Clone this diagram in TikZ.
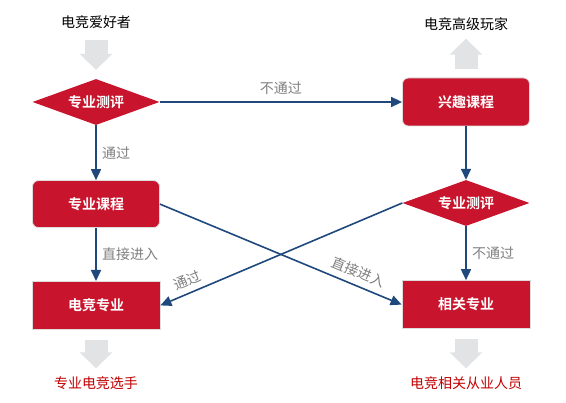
\documentclass[tikz,border=0pt]{standalone}
\usepackage{fontspec}
\newfontfamily\cjk{Noto Sans CJK SC}[BoldFont={Noto Sans CJK SC Bold}]
\usepackage{tikz}
\usetikzlibrary{shapes,arrows.meta,positioning}
\definecolor{evred}{HTML}{C8152D}
\definecolor{evblue}{HTML}{1F497D}
\definecolor{evgray}{HTML}{E1E3E4}
\definecolor{evnote}{HTML}{7F7F7F}
\definecolor{evborder}{HTML}{DCDCDC}
\definecolor{evgoal}{HTML}{C00000}
\tikzset{
  testnode/.style   = {diamond, aspect=2.7, fill=evred, text=white, inner sep=0pt, minimum width=127pt, minimum height=46pt, font=\cjk\bfseries\fontsize{14pt}{16pt}\selectfont},
  coursenode/.style = {rectangle, rounded corners=6pt, fill=evred, draw=evborder, line width=0.8pt, text=white, minimum width=127pt, minimum height=47pt, font=\cjk\bfseries\fontsize{14pt}{16pt}\selectfont},
  majornode/.style  = {rectangle, fill=evred, draw=evborder, line width=0.8pt, text=white, minimum width=128pt, minimum height=48pt, font=\cjk\bfseries\fontsize{14pt}{16pt}\selectfont},
  flow/.style       = {evblue, line width=1.6pt, -{Triangle[width=10pt,length=11pt]}},
  outflow/.style    = {evgray, line width=23pt, -{Triangle[width=32pt,length=16pt]}},
  note/.style       = {text=evnote, font=\cjk\fontsize{14pt}{16pt}\selectfont},
  endtext/.style    = {inner sep=0pt, font=\cjk\fontsize{14pt}{16pt}\selectfont},
}

\begin{document}
\begin{tikzpicture}[x=1pt,y=-1pt]
    \useasboundingbox (0,0) rectangle (566,403);

    \node [endtext] (fan) at (96,22) {电竞爱好者};
    \node [testnode] (test1) at (96,102) {专业测评};
    \node [coursenode, below=55pt of test1] (course) {专业课程};
    \node [majornode, below=53pt of course] (major) {电竞专业};
    \node [endtext, text=evgoal] (pro) at (96,383) {专业电竞选手};

    \node [coursenode, minimum height=48pt] (interest) at (466,102) {兴趣课程};
    \node [endtext] (player) at (466,24) {电竞高级玩家};
    \node [testnode] (test2) at (466,203) {专业测评};
    \node [majornode, below=54pt of test2] (related) {相关专业};
    \node [endtext, text=evgoal] (staff) at (466,383) {电竞相关从业人员};

    \path (fan) edge[outflow, shorten <=11pt, shorten >=9pt] (test1);
    \path (interest) edge[outflow, shorten <=9pt, shorten >=8pt] (player);
    \path (major) edge[outflow, shorten <=10pt, shorten >=8pt] (pro);
    \path (related) edge[outflow, shorten <=10pt, shorten >=8pt] (staff);

    \path (test1) edge[flow] node[note, above=3pt] {不通过} (interest);
    \path (test1) edge[flow] node[note, right=2pt] {通过} (course);
    \path (course) edge[flow] node[note, right=2pt] {直接进入} (major);
    \path (interest) edge[flow] (test2);
    \path (test2) edge[flow] node[note, right=2pt] {不通过} (related);
    \path (course.east) edge[flow] node[note, sloped, above=3pt, pos=0.8] {直接进入} (related.west);
    \path (test2.west) edge[flow] node[note, sloped, above=2pt, pos=0.87] {通过} (major.east);
\end{tikzpicture}
\end{document}
